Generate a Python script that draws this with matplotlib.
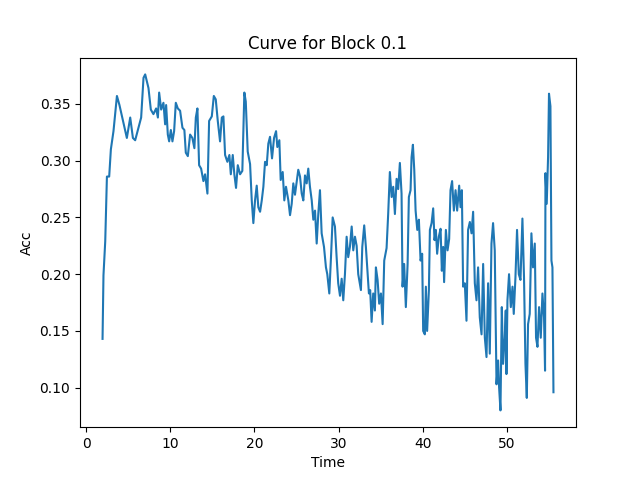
import matplotlib
matplotlib.use("Agg")
import matplotlib.pyplot as plt

time = [1.94, 2.05, 2.26, 2.46, 2.73, 2.93, 3.24, 3.65, 3.95, 4.43, 4.83, 5.23, 5.55, 5.82,
        6.21, 6.53, 6.81, 7.01, 7.40, 7.68, 7.99, 8.31, 8.52, 8.67, 8.91, 9.18, 9.38, 9.50,
        9.70, 9.86, 10.06, 10.25, 10.45, 10.65, 10.89, 11.16, 11.44, 11.67, 11.84, 12.08,
        12.35, 12.62, 12.86, 13.03, 13.22, 13.42, 13.66, 13.93, 14.13, 14.41, 14.61, 14.93,
        15.17, 15.40, 15.64, 15.91, 16.12, 16.31, 16.51, 16.78, 17.02, 17.19, 17.42, 17.61,
        17.81, 18.02, 18.29, 18.56, 18.80, 18.97, 19.20, 19.48, 19.68, 19.87, 20.07, 20.27,
        20.46, 20.67, 20.87, 21.06, 21.26, 21.46, 21.65, 21.85, 22.09, 22.33, 22.57, 22.72,
        22.96, 23.12, 23.36, 23.55, 23.75, 24.03, 24.23, 24.43, 24.62, 24.82, 25.02, 25.21,
        25.42, 25.62, 25.81, 26.01, 26.21, 26.40, 26.60, 26.81, 27.00, 27.20, 27.40, 27.59,
        27.79, 27.99, 28.27, 28.50, 28.66, 28.90, 29.10, 29.30, 29.57, 29.77, 29.96, 30.17,
        30.37, 30.56, 30.76, 30.96, 31.15, 31.35, 31.56, 31.75, 31.95, 32.15, 32.34, 32.66,
        32.82, 33.05, 33.25, 33.41, 33.61, 33.76, 33.93, 34.12, 34.32, 34.44, 34.64, 34.83,
        35.04, 35.24, 35.43, 35.71, 35.90, 36.10, 36.31, 36.50, 36.70, 36.90, 37.09, 37.29,
        37.49, 37.61, 37.80, 38.00, 38.21, 38.36, 38.56, 38.68, 38.84, 39.00, 39.16, 39.36,
        39.55, 39.75, 39.94, 40.06, 40.26, 40.38, 40.53, 40.74, 40.86, 41.06, 41.25, 41.41,
        41.57, 41.72, 41.92, 42.13, 42.28, 42.44, 42.55, 42.76, 42.96, 43.15, 43.31, 43.50,
        43.71, 43.91, 44.10, 44.34, 44.50, 44.66, 44.81, 45.01, 45.21, 45.40, 45.61, 45.81,
        46.00, 46.20, 46.40, 46.59, 46.79, 47.00, 47.19, 47.39, 47.59, 47.78, 47.98, 48.18,
        48.37, 48.57, 48.78, 48.97, 49.09, 49.25, 49.41, 49.56, 49.76, 49.88, 49.96, 50.08,
        50.27, 50.48, 50.68, 50.83, 51.03, 51.22, 51.43, 51.63, 51.86, 52.05, 52.22, 52.38,
        52.53, 52.73, 52.93, 53.12, 53.33, 53.48, 53.65, 53.84, 54.04, 54.24, 54.43, 54.55,
        54.60, 54.75, 54.91, 55.02, 55.19, 55.31, 55.43, 55.55]

acc = [0.143, 0.199, 0.229, 0.286, 0.286, 0.310, 0.326, 0.357, 0.349, 0.333, 0.320, 0.338, 0.320, 0.318,
       0.329, 0.338, 0.373, 0.376, 0.364, 0.345, 0.341, 0.346, 0.338, 0.360, 0.345, 0.351, 0.332, 0.349,
       0.323, 0.317, 0.327, 0.317, 0.326, 0.351, 0.346, 0.344, 0.329, 0.327, 0.307, 0.304,
       0.323, 0.320, 0.311, 0.338, 0.346, 0.296, 0.293, 0.282, 0.288, 0.271, 0.335, 0.339,
       0.357, 0.354, 0.335, 0.317, 0.338, 0.339, 0.305, 0.299, 0.305, 0.288, 0.305, 0.288,
       0.276, 0.296, 0.288, 0.291, 0.360, 0.352, 0.308, 0.297, 0.265, 0.245, 0.265, 0.278,
       0.259, 0.255, 0.265, 0.277, 0.299, 0.296, 0.315, 0.321, 0.302, 0.320, 0.326, 0.312,
       0.318, 0.283, 0.290, 0.265, 0.277, 0.265, 0.252, 0.262, 0.280, 0.270, 0.281, 0.292,
       0.286, 0.271, 0.265, 0.287, 0.280, 0.293, 0.277, 0.265, 0.248, 0.256, 0.227, 0.253,
       0.274, 0.236, 0.224, 0.206, 0.200, 0.183, 0.215, 0.250, 0.242, 0.215, 0.192, 0.181,
       0.196, 0.177, 0.200, 0.233, 0.215, 0.224, 0.242, 0.221, 0.233, 0.225, 0.200, 0.186,
       0.224, 0.243, 0.224, 0.206, 0.183, 0.186, 0.158, 0.183, 0.168, 0.206, 0.195, 0.174,
       0.183, 0.156, 0.212, 0.223, 0.253, 0.290, 0.268, 0.277, 0.253, 0.284, 0.275, 0.298,
       0.271, 0.189, 0.209, 0.171, 0.209, 0.268, 0.274, 0.303, 0.314, 0.292, 0.256, 0.239,
       0.248, 0.212, 0.218, 0.150, 0.147, 0.189, 0.150, 0.186, 0.239, 0.245, 0.258, 0.230,
       0.239, 0.218, 0.233, 0.240, 0.203, 0.224, 0.193, 0.239, 0.221, 0.231, 0.274, 0.282,
       0.256, 0.274, 0.256, 0.278, 0.259, 0.274, 0.189, 0.192, 0.159, 0.239, 0.246, 0.236,
       0.255, 0.192, 0.177, 0.206, 0.162, 0.147, 0.209, 0.144, 0.127, 0.192, 0.130, 0.227,
       0.245, 0.221, 0.103, 0.124, 0.100, 0.080, 0.171, 0.121, 0.144, 0.168, 0.112, 0.177,
       0.200, 0.171, 0.189, 0.165, 0.197, 0.239, 0.200, 0.195, 0.249, 0.197, 0.121, 0.091,
       0.156, 0.165, 0.236, 0.206, 0.227, 0.144, 0.136, 0.171, 0.144, 0.183, 0.162, 0.115,
       0.289, 0.262, 0.303, 0.359, 0.348, 0.212, 0.206, 0.096]

fig, ax = plt.subplots(figsize=(6.4, 4.8), dpi=100)
ax.plot(time, acc)
ax.set_title("Curve for Block 0.1")
ax.set_xlabel("Time")
ax.set_ylabel("Acc")
fig.savefig("out.png")
